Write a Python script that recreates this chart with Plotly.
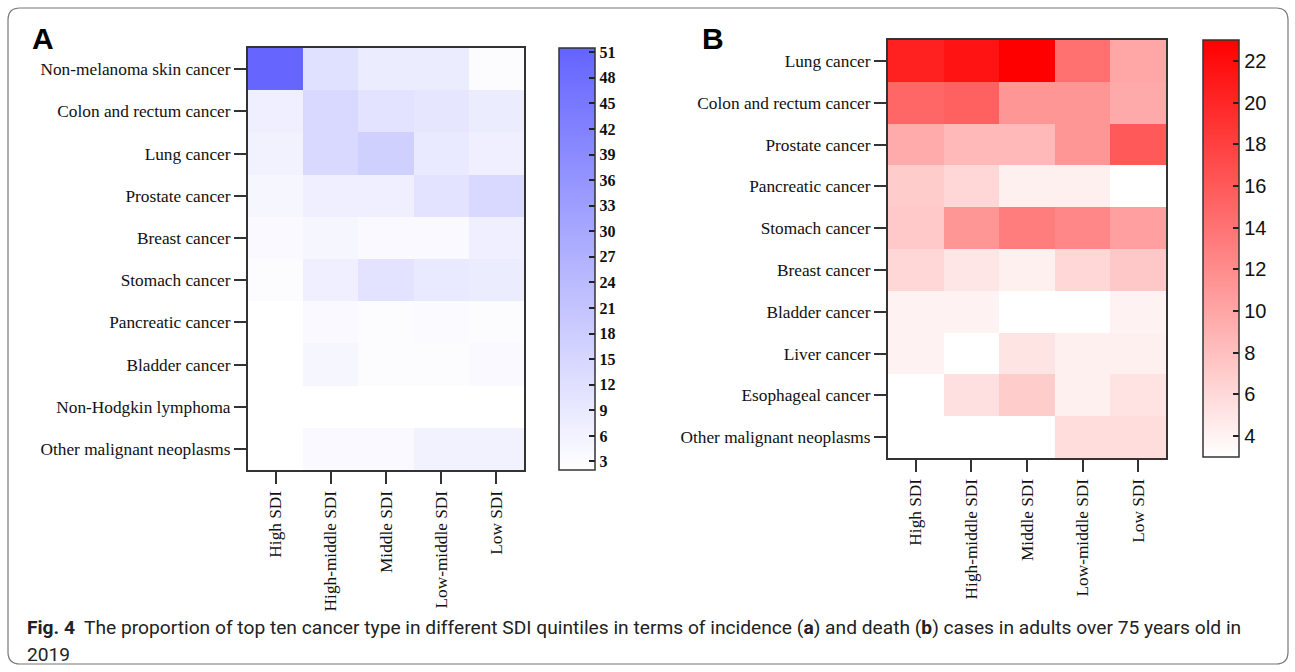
import plotly.graph_objects as go

W, H = 1295, 672

sdi = ["High SDI", "High-middle SDI", "Middle SDI", "Low-middle SDI", "Low SDI"]

cancers_a = ["Non-melanoma skin cancer", "Colon and rectum cancer", "Lung cancer",
             "Prostate cancer", "Breast cancer", "Stomach cancer", "Pancreatic cancer",
             "Bladder cancer", "Non-Hodgkin lymphoma", "Other malignant neoplasms"]
incidence = [
    [51, 12, 8, 8, 3],
    [7, 14, 11, 10, 8],
    [6, 14, 17, 9, 7],
    [5, 7, 7, 11, 14],
    [4, 5, 4, 4, 7],
    [3, 7, 11, 9, 8],
    [2, 4, 3, 3.5, 3],
    [2, 5, 3, 3, 4],
    [2, 2, 2, 2, 2],
    [2, 4, 4, 6, 6],
]
ticks_a = [3, 6, 9, 12, 15, 18, 21, 24, 27, 30, 33, 36, 39, 42, 45, 48, 51]

cancers_b = ["Lung cancer", "Colon and rectum cancer", "Prostate cancer",
             "Pancreatic cancer", "Stomach cancer", "Breast cancer", "Bladder cancer",
             "Liver cancer", "Esophageal cancer", "Other malignant neoplasms"]
death = [
    [20.5, 21.5, 23, 14.2, 10],
    [15, 15.5, 11.2, 11.2, 9.7],
    [9.6, 8.5, 8.5, 11.2, 16],
    [7, 6.1, 4.2, 4.2, 3],
    [7.2, 11.2, 13.2, 12.4, 10.5],
    [6.1, 5, 4.2, 6.1, 7.3],
    [4, 4, 3, 3, 4],
    [4, 3, 5.1, 4.2, 4.2],
    [3, 5.4, 7, 4.2, 5.3],
    [3, 3, 3, 5.7, 5.7],
]
ticks_b = [4, 6, 8, 10, 12, 14, 16, 18, 20, 22]


def px(x):
    return x / W


def py(y):
    return 1 - y / H


serif = "Liberation Serif"

fig = go.Figure()

# Panel A
fig.add_trace(go.Heatmap(
    z=incidence, x=sdi, y=cancers_a, xaxis="x", yaxis="y",
    zmin=2, zmax=51.5,
    colorscale=[[0, "#ffffff"], [1, "#6464ff"]],
    hoverinfo="skip",
    colorbar=dict(
        x=px(559), xanchor="left", y=py(470), yanchor="bottom",
        len=422, lenmode="pixels", thickness=36, thicknessmode="pixels",
        xpad=0, ypad=0, outlinecolor="#333", outlinewidth=1.5,
        tickvals=ticks_a, ticks="inside", ticklen=6, tickcolor="#222", tickwidth=1.5,
        tickprefix="\u2007",
        tickfont=dict(family=serif, size=16, color="#111", weight="bold"),
    ),
))

# Panel B
fig.add_trace(go.Heatmap(
    z=death, x=sdi, y=cancers_b, xaxis="x2", yaxis="y2",
    zmin=3, zmax=23,
    colorscale=[[0, "#ffffff"], [1, "#ff0000"]],
    hoverinfo="skip",
    colorbar=dict(
        x=px(1203), xanchor="left", y=py(457), yanchor="bottom",
        len=417, lenmode="pixels", thickness=36, thicknessmode="pixels",
        xpad=0, ypad=0, outlinecolor="#333", outlinewidth=1.5,
        tickvals=ticks_b, ticks="inside", ticklen=6, tickcolor="#222", tickwidth=1.5,
        tickprefix="\u2009",
        tickfont=dict(family="Liberation Sans", size=20, color="#111"),
    ),
))

axis_common = dict(showline=True, linecolor="#333", linewidth=2, mirror=True,
                   ticks="outside", tickcolor="#333", tickwidth=2,
                   showgrid=False, zeroline=False,
                   tickfont=dict(family=serif, size=17.3, color="#111"))

fig.update_layout(
    width=W, height=H,
    margin=dict(l=0, r=0, t=0, b=0),
    paper_bgcolor="white", plot_bgcolor="white",
    xaxis=dict(domain=[px(248), px(524)], anchor="y", tickangle=-90, ticklen=12, **axis_common),
    yaxis=dict(domain=[py(470), py(48)], anchor="x", autorange="reversed", ticklen=12, **axis_common),
    xaxis2=dict(domain=[px(888), px(1166)], anchor="y2", tickangle=-90, ticklen=12, **axis_common),
    yaxis2=dict(domain=[py(458), py(40)], anchor="x2", autorange="reversed", ticklen=12, **axis_common),
    showlegend=False,
)

# rounded border
x0, x1, y0, y1, r = px(8), px(1288), py(664), py(8), 12
rx, ry = r / W, r / H
path = (f"M {x0+rx},{y0} L {x1-rx},{y0} Q {x1},{y0} {x1},{y0+ry} "
        f"L {x1},{y1-ry} Q {x1},{y1} {x1-rx},{y1} L {x0+rx},{y1} "
        f"Q {x0},{y1} {x0},{y1-ry} L {x0},{y0+ry} Q {x0},{y0} {x0+rx},{y0} Z")
fig.add_shape(type="path", path=path, xref="paper", yref="paper",
              line=dict(color="#777", width=1.2))

fig.add_annotation(text="<b>A</b>", x=px(30), y=py(38), xref="paper", yref="paper",
                   xanchor="left", yanchor="middle", showarrow=False,
                   font=dict(family="Liberation Sans", size=30, color="#000"))
fig.add_annotation(text="<b>B</b>", x=px(700), y=py(38), xref="paper", yref="paper",
                   xanchor="left", yanchor="middle", showarrow=False,
                   font=dict(family="Liberation Sans", size=30, color="#000"))

cap_font = dict(family="Roboto", size=19.2, color="#222")
fig.add_annotation(
    text="<b>Fig. 4</b>  The proportion of top ten cancer type in different SDI quintiles in terms of "
         "incidence (<b>a</b>) and death (<b>b</b>) cases in adults over 75 years old in",
    x=px(25), y=py(627), xref="paper", yref="paper", xanchor="left", yanchor="middle",
    showarrow=False, font=cap_font)
fig.add_annotation(text="2019", x=px(25), y=py(654), xref="paper", yref="paper",
                   xanchor="left", yanchor="middle", showarrow=False, font=cap_font)

fig.write_html("out.html")
